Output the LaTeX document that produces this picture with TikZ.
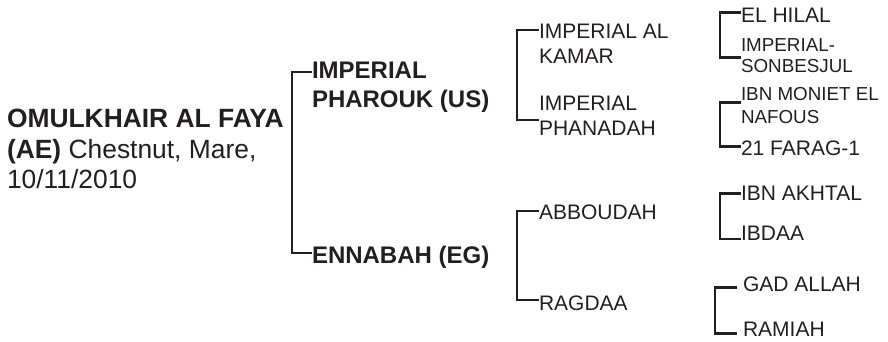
\documentclass[tikz,border=0pt]{standalone}
\usepackage{fontspec}
\setmainfont{Liberation Sans}
\definecolor{ink}{HTML}{231F20}
\tikzset{
  lbl/.style={anchor=base west, inner sep=0pt, outer sep=0pt, text=ink},
  rootf/.style={lbl, font=\fontsize{26.4}{30}\selectfont},
  gentwo/.style={lbl, font=\fontsize{24}{29}\selectfont\bfseries},
  genthree/.style={lbl, font=\fontsize{21}{25}\selectfont},
  genfour/.style={lbl, font=\fontsize{21}{25}\selectfont},
  genfoursmall/.style={lbl, font=\fontsize{18.8}{21}\selectfont},
  brk/.style={draw=ink, line width=2.9pt, line join=miter}
}
\begin{document}
\begin{tikzpicture}[x=1pt,y=-1pt]
\useasboundingbox (0,0) rectangle (888,341);
% root
\node[rootf] (r1) at (7,127) {\bfseries OMULKHAIR AL FAYA};
\node[rootf] (r2) at (7,158) {{\bfseries (AE)} Chestnut, Mare,};
\node[rootf] (r3) at (7,188) {10/11/2010};
% generation 2
\node[gentwo] (s1) at (312,78) {IMPERIAL};
\node[gentwo] (s2) at (312,107) {PHAROUK (US)};
\node[gentwo] (d1) at (312,263) {ENNABAH (EG)};
\coordinate (g2t) at (312,72);
\coordinate (g2b) at (312,253);
\draw[brk] (g2t) -- ++(-20,0) |- (g2b);
% generation 3
\node[genthree] (ss1) at (539,38.3) {IMPERIAL AL};
\node[genthree] (ss2) at (539,63.3) {KAMAR};
\node[genthree] (sd1) at (539,110.5) {IMPERIAL};
\node[genthree] (sd2) at (539,135.5) {PHANADAH};
\node[genthree] (ds1) at (539,219.3) {ABBOUDAH};
\node[genthree] (dd1) at (539,310.5) {RAGDAA};
\coordinate (g3a) at (539,30);
\coordinate (g3b) at (539,120);
\coordinate (g3c) at (539,211);
\coordinate (g3d) at (539,300);
\draw[brk] (g3a) -- ++(-22,0) |- (g3b);
\draw[brk] (g3c) -- ++(-22,0) |- (g3d);
% generation 4
\node[genfour] (a1) at (741,22.7) {EL HILAL};
\node[genfoursmall] (a2) at (741,51.7) {IMPERIAL-};
\node[genfoursmall] (a3) at (741,72.7) {SONBESJUL};
\node[genfoursmall] (b1) at (741,100.3) {IBN MONIET EL};
\node[genfoursmall] (b2) at (741,123.3) {NAFOUS};
\node[genfour] (b3) at (741,155) {21 FARAG-1};
\node[genfour] (c1) at (741,200.7) {IBN AKHTAL};
\node[genfour] (c2) at (741,240.7) {IBDAA};
\node[genfour] (e1) at (743,291.7) {GAD ALLAH};
\node[genfour] (e2) at (743,336.7) {RAMIAH};
\coordinate (g4a) at (741,12.7);
\coordinate (g4b) at (741,57.3);
\coordinate (g4c) at (741,102.7);
\coordinate (g4d) at (741,146.7);
\coordinate (g4e) at (741,193.3);
\coordinate (g4f) at (741,239);
\coordinate (g4g) at (737,287.3);
\coordinate (g4h) at (737,333.3);
\draw[brk] (g4a) -- ++(-21,0) |- (g4b);
\draw[brk] (g4c) -- ++(-21,0) |- (g4d);
\draw[brk] (g4e) -- ++(-21,0) |- (g4f);
\draw[brk] (g4g) -- ++(-22,0) |- (g4h);
\end{tikzpicture}
\end{document}
